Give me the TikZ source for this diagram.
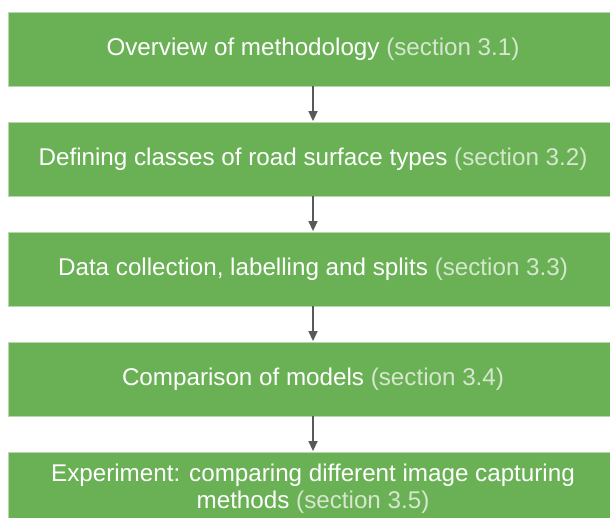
\documentclass[tikz,border=0pt]{standalone}
\usepackage{fontspec}
\setmainfont{Liberation Sans}
\usetikzlibrary{arrows.meta}
\definecolor{boxgreen}{HTML}{6AB155}
\definecolor{boxedge}{HTML}{B9D7AC}
\definecolor{secgray}{HTML}{D6E6CF}
\definecolor{arrowgray}{HTML}{595959}
\begin{document}
\begin{tikzpicture}[x=1pt,y=-1pt,
  stepbox/.style={rectangle, fill=boxgreen, draw=boxedge, line width=0.8pt,
    minimum width=610pt, minimum height=74pt, inner sep=0pt, text=white,
    font=\fontsize{24.2}{27}\selectfont, align=center},
  flowarrow/.style={draw=arrowgray, line width=1.4pt,
    -{Triangle[length=10pt,width=9pt]}, shorten >=0.5pt}]
\useasboundingbox (0,0) rectangle (610,518);
\node[stepbox] (b1) at (313,49) {Overview of methodology \textcolor{secgray}{(section 3.1)}};
\node[stepbox] (b2) at (313,159) {Defining classes of road surface types \textcolor{secgray}{(section 3.2)}};
\node[stepbox] (b3) at (313,269) {Data collection, labelling and splits \textcolor{secgray}{(section 3.3)}};
\node[stepbox] (b4) at (313,379) {Comparison of models \textcolor{secgray}{(section 3.4)}};
\node[stepbox, minimum height=74pt] (b5) at (313,489) {Experiment: comparing different image capturing\\methods \textcolor{secgray}{(section 3.5)}};
\draw[flowarrow] (b1.south) -- (b2.north);
\draw[flowarrow] (b2.south) -- (b3.north);
\draw[flowarrow] (b3.south) -- (b4.north);
\draw[flowarrow] (b4.south) -- (b5.north);
\end{tikzpicture}
\end{document}
